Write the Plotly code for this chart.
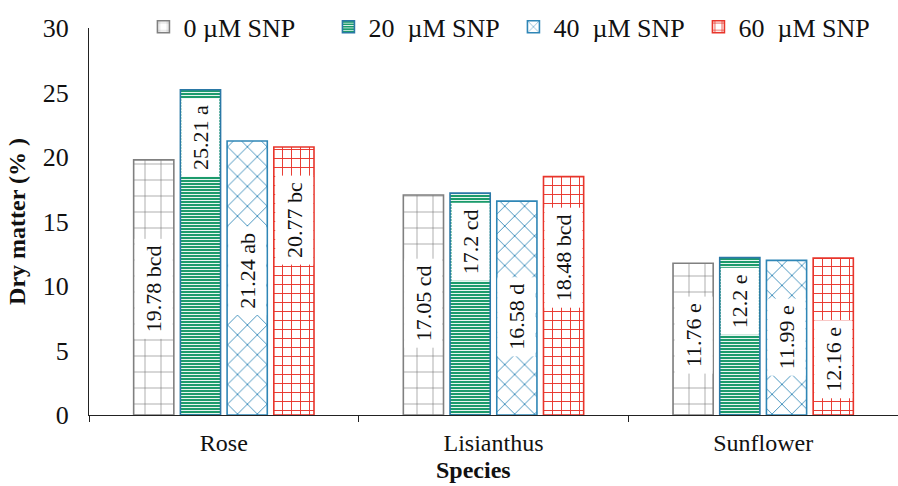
import plotly.graph_objects as go

# Dry matter (%) by species and SNP concentration
species = ["Rose", "Lisianthus", "Sunflower"]
series_names = ["0\u00a0µM SNP", "20\u00a0\u00a0µM SNP", "40\u00a0\u00a0µM SNP", "60\u00a0\u00a0µM SNP"]
snp_0 = [19.78, 17.05, 11.76]
snp_20 = [25.21, 17.20, 12.20]
snp_40 = [21.24, 16.58, 11.99]
snp_60 = [20.77, 18.48, 12.16]
letters_0 = ["bcd", "cd", "e"]
letters_20 = ["a", "cd", "e"]
letters_40 = ["ab", "d", "e"]
letters_60 = ["bc", "bcd", "e"]

# vertical centre of each value label (data units), per series
label_y_0 = [9.8, 8.7, 6.2]
label_y_20 = [21.5, 13.4, 8.8]
label_y_40 = [11.2, 7.6, 6.0]
label_y_60 = [15.1, 12.2, 4.3]

values = [snp_0, snp_20, snp_40, snp_60]
letters = [letters_0, letters_20, letters_40, letters_60]
label_y = [label_y_0, label_y_20, label_y_40, label_y_60]

FONT = "Liberation Serif, Times New Roman, serif"
INK = "#111111"

styles = [
    dict(line="#808080", pattern=dict(shape="+", fgcolor="#707070", bgcolor="#ffffff", size=16, solidity=0.07)),
    dict(line="#2a78a6", pattern=dict(shape="-", fgcolor="#ffffff", bgcolor="#1c9b6c", size=3, solidity=0.3)),
    dict(line="#2f86b6", pattern=dict(shape="x", fgcolor="#2f86b6", bgcolor="#ffffff", size=14, solidity=0.12)),
    dict(line="#e8352b", pattern=dict(shape="+", fgcolor="#e8352b", bgcolor="#ffffff", size=9, solidity=0.2)),
]

W, H = 898, 486
margin = dict(l=89, r=0, t=28, b=71)
bargap, bargroupgap = 0.307, 0.14

fig = go.Figure()
for name, vals, st in zip(series_names, values, styles):
    fig.add_trace(go.Bar(
        name=name, x=species, y=vals,
        marker=dict(color="#ffffff", line=dict(color=st["line"], width=1.6),
                    pattern=dict(fillmode="replace", **st["pattern"])),
    ))

# value labels: rotated text on a white box inside each bar
plot_w = W - margin["l"] - margin["r"]
slot = plot_w / len(species) * (1 - bargap) / len(values)
annotations = []
for j, (vals, lets, ly) in enumerate(zip(values, letters, label_y)):
    for i, sp in enumerate(species):
        annotations.append(dict(
            x=sp, y=ly[i], xref="x", yref="y",
            text=f"{vals[i]:g} {lets[i]}", showarrow=False, textangle=-90,
            xshift=(j - (len(values) - 1) / 2) * slot,
            font=dict(family=FONT, size=22, color=INK),
            bgcolor="#ffffff", borderpad=6, height=25,
        ))

annotations.append(dict(
    x=0.475, y=-0.181, xref="paper", yref="paper", yanchor="bottom",
    text="<b>Species</b>", showarrow=False,
    font=dict(family=FONT, size=24, color=INK),
))

fig.update_layout(
    width=W, height=H, margin=margin,
    paper_bgcolor="white", plot_bgcolor="white",
    barmode="group", bargap=bargap, bargroupgap=bargroupgap,
    font=dict(family=FONT, size=22, color=INK),
    showlegend=True,
    legend=dict(orientation="h", x=0.982, xanchor="right", y=1.003, yanchor="middle",
                font=dict(family=FONT, size=26, color=INK),
                entrywidth=140, entrywidthmode="pixels",
                bgcolor="rgba(255,255,255,0)", itemwidth=30, tracegroupgap=0),
    annotations=annotations,
    xaxis=dict(showline=True, linecolor="#222", linewidth=1.3, ticks="outside",
               tickson="boundaries", ticklen=6, tickcolor="#222", ticklabelstandoff=6,
               tickfont=dict(family=FONT, size=24, color=INK), showgrid=False),
    yaxis=dict(range=[0, 30], dtick=5, showline=True, linecolor="#222", linewidth=1.3,
               ticks="", showgrid=False, zeroline=False, ticklabelstandoff=14,
               tickfont=dict(family=FONT, size=26, color=INK),
               title=dict(text="<b>Dry matter (%\u00a0)</b>", standoff=10,
                          font=dict(family=FONT, size=24, color=INK))),
)

fig.write_html("out.html")
